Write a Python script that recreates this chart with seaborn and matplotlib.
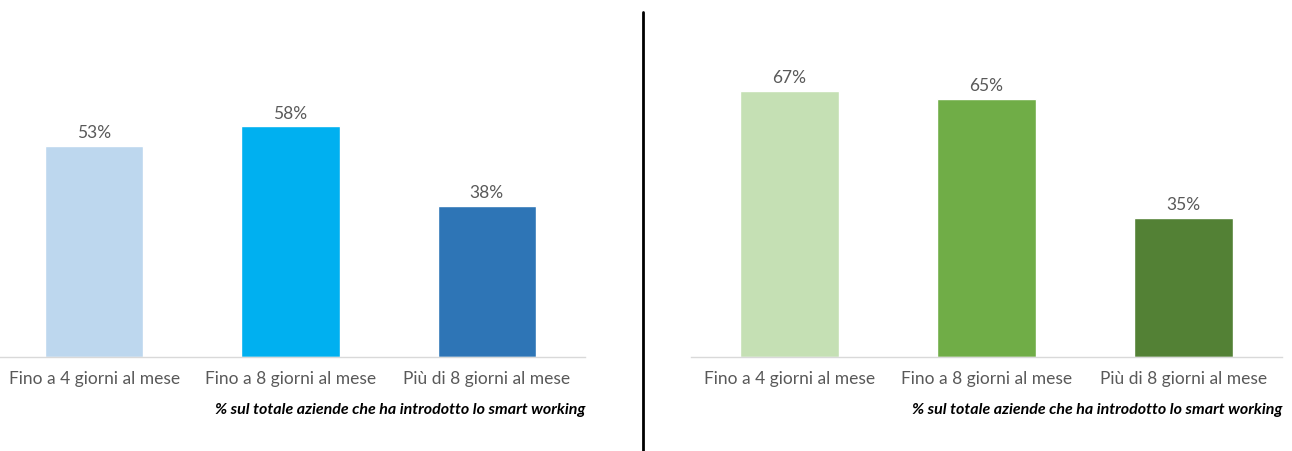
import pandas as pd
import matplotlib.pyplot as plt
import seaborn as sns

categorie = ['Fino a 4 giorni al mese', 'Fino a 8 giorni al mese', 'Più di 8 giorni al mese']
valori_sx = [53, 58, 38]
valori_dx = [67, 65, 35]
colori_sx = ['#BDD7EE', '#00B0F0', '#2E75B6']
colori_dx = ['#C5E0B4', '#70AD47', '#538135']
nota = '% sul totale aziende che ha introdotto lo smart working'

sns.set_theme(style='white')
plt.rcParams['font.family'] = ['Lato', 'DejaVu Sans']

W, H = 1292, 451
fig = plt.figure(figsize=(W / 100, H / 100), dpi=100)


def pannello(x0, x1, xmin, valori, colori):
    ax = fig.add_axes([x0 / W, (H - 357) / H, (x1 - x0) / W, 357 / H])
    df = pd.DataFrame({'cat': categorie, 'val': valori})
    sns.barplot(data=df, x='cat', y='val', hue='cat', palette=colori,
                width=0.5, saturation=1, legend=False, ax=ax)
    ax.set_xlim(xmin, 2.5)
    ax.set_ylim(0, 89.8)
    for p, v in zip(ax.patches, valori):
        ax.annotate(f'{v}%', (p.get_x() + p.get_width() / 2, v),
                    xytext=(0, 3.5), textcoords='offset points',
                    ha='center', va='bottom', fontsize=12.5, color='#595959')
    sns.despine(ax=ax, left=True)
    ax.spines['bottom'].set_color('#D9D9D9')
    ax.spines['bottom'].set_linewidth(1)
    ax.set_yticks([])
    ax.set_xlabel('')
    ax.set_ylabel('')
    ax.tick_params(axis='x', length=0, pad=10, labelsize=12.5, labelcolor='#595959')
    return ax


pannello(0, 585, -0.48, valori_sx, colori_sx)
pannello(691, 1282, -0.5, valori_dx, colori_dx)

for xr in (585, 1282):
    fig.text(xr / W, 1 - 410 / H, nota, ha='right', va='center',
             fontsize=11.5, fontweight='bold', fontstyle='italic', color='black')

fig.add_artist(plt.Line2D([643 / W, 643 / W], [1 - 12 / H, 0], color='black',
                          linewidth=2, transform=fig.transFigure))

fig.savefig('out.png', dpi=100)
